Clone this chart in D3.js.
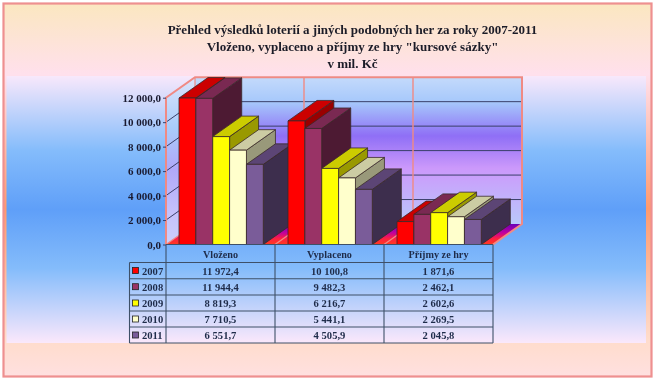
<!DOCTYPE html>
<html><head><meta charset="utf-8">
<script src="https://cdn.jsdelivr.net/npm/d3@7"></script>
<style>html,body{margin:0;padding:0;background:#fff}svg{display:block;filter:blur(0.35px)}text{font-family:"Liberation Serif",serif;font-weight:bold}</style>
</head><body><svg id="c" width="656" height="381"></svg>
<script>
const titleLines = ['Přehled výsledků loterií a jiných podobných her za roky 2007-2011','Vloženo, vyplaceno a příjmy ze hry "kursové sázky"','v mil. Kč'];
const categories = ['Vloženo','Vyplaceno','Příjmy ze hry'];
const years = ['2007','2008','2009','2010','2011'];
const v2007 = [11972.4,10100.8,1871.6];
const v2008 = [11944.4,9482.3,2462.1];
const v2009 = [8819.3,6216.7,2602.6];
const v2010 = [7710.5,5441.1,2269.5];
const v2011 = [6551.7,4505.9,2045.8];
const seriesValues = [v2007,v2008,v2009,v2010,v2011];
const colors = [
 {f:'#ff0000',t:'#cc0000',s:'#990000'},
 {f:'#993366',t:'#7a2952',s:'#4d1a33'},
 {f:'#ffff00',t:'#cccc00',s:'#999900'},
 {f:'#ffffcc',t:'#ccccA3',s:'#99997a'},
 {f:'#7a5c99',t:'#5c4575',s:'#3d2e4d'}];
const ticks = [0,2000,4000,6000,8000,10000,12000];

const svg = d3.select('#c'), defs = svg.append('defs');
const loc = d3.formatLocale({decimal:',',thousands:' ',grouping:[3],currency:['','']});
const fmt = loc.format(',.1f');
function grad(id,stops,x1=0,y1=0,x2=0,y2=1){
  const g=defs.append('linearGradient').attr('id',id).attr('x1',x1).attr('y1',y1).attr('x2',x2).attr('y2',y2);
  stops.forEach(s=>g.append('stop').attr('offset',s[0]).attr('stop-color',s[1]));
}
grad('outer',[[0,'#fbe7c0'],[0.19,'#ffe0ec'],[0.55,'#ff9a6e'],[0.9,'#ffdccb'],[1,'#ffe0e0']]);
grad('plot',[[0,'#f8e8fb'],[0.28,'#84bcfb'],[0.5,'#5f9ff8'],[0.72,'#84bcfb'],[1,'#fbe8fb']]);
grad('wall',[[0,'#c4dafb'],[0.17,'#a6c8fb'],[0.40,'#8f6ff6'],[0.62,'#cc99fb'],[1,'#b9c8fb']]);
grad('side',[[0,'#dce4fb'],[0.3,'#a9ccfb'],[0.55,'#b0a8f8'],[0.8,'#c4c0fb'],[1,'#ccd0fb']]);
grad('floor',[[0,'#6a00b8'],[0.42,'#c000a0'],[0.72,'#ff2040'],[1,'#ff3a20']]);

// layout
const x0=166,x1=493,dx=29,dy=20.5,y0=244.5,yT=97.7;
const y=d3.scaleLinear().domain([0,12000]).range([y0,yT]);
const xCat=d3.scaleBand().domain(categories).range([x0,x1]).paddingInner(0).paddingOuter(0);
const xBar=d3.scaleBand().domain(years).range([13,97.3]);
const pts=a=>a.map(p=>p.join(',')).join(' ');
const salmon='#f08a84', dark='#3a3f6a';

svg.append('rect').attr('x',3.5).attr('y',3.5).attr('width',648).attr('height',373).attr('fill','url(#outer)').attr('stroke','#ee9090').attr('stroke-width',2.2);
svg.append('rect').attr('x',6.5).attr('y',76).attr('width',639.5).attr('height',267).attr('fill','url(#plot)');

// title
svg.append('g').selectAll('text').data(titleLines).join('text')
 .attr('x',352.5).attr('y',(d,i)=>34+i*16.8).attr('text-anchor','middle').attr('font-size',13).attr('fill','#1c1c28').text(d=>d);

// walls
const g=svg.append('g');
g.append('polygon').attr('points',pts([[x0+dx,y(12000)-dy],[x1+dx,y(12000)-dy],[x1+dx,y0-dy],[x0+dx,y0-dy]])).attr('fill','url(#wall)');
g.append('polygon').attr('points',pts([[x0,yT],[x0+dx,yT-dy],[x0+dx,y0-dy],[x0,y0]])).attr('fill','url(#side)');
g.append('polygon').attr('points',pts([[x0,y0],[x0+dx,y0-dy],[x1+dx,y0-dy],[x1,y0]])).attr('fill','url(#floor)');
// gridlines
ticks.slice(1,-1).forEach(t=>{
  g.append('polyline').attr('points',pts([[x0,y(t)],[x0+dx,y(t)-dy],[x1+dx,y(t)-dy]])).attr('fill','none').attr('stroke',dark).attr('stroke-width',1);
});
// vertical grid
categories.slice(1).forEach(c=>{
  const x=xCat(c);
  g.append('polyline').attr('points',pts([[x,y0],[x+dx,y0-dy],[x+dx,yT-dy]])).attr('fill','none').attr('stroke',salmon).attr('stroke-width',1.4);
});
// wall outline
g.append('polyline').attr('points',pts([[x0,y0],[x0,yT],[x0+dx,yT-dy],[x1+dx,yT-dy],[x1+dx,y0-dy],[x1,y0]])).attr('fill','none').attr('stroke',salmon).attr('stroke-width',2);
g.append('line').attr('x1',x0+dx).attr('x2',x0+dx).attr('y1',yT-dy).attr('y2',y0-dy).attr('stroke',salmon).attr('stroke-width',1.2);
g.append('line').attr('x1',x0).attr('y1',y0).attr('x2',x0+dx).attr('y2',y0-dy).attr('stroke',salmon).attr('stroke-width',1.2);

// bars
const line='#3a2a2a';
categories.forEach((c,ci)=>{
  years.forEach((yr,si)=>{
    const v=seriesValues[si][ci], l=xCat(c)+xBar(yr), r=l+xBar.bandwidth(), top=y(v), col=colors[si];
    const b=g.append('g').attr('stroke',line).attr('stroke-width',0.8).attr('stroke-linejoin','round');
    b.append('polygon').attr('points',pts([[r,top],[r+dx,top-dy],[r+dx,y0-dy],[r,y0]])).attr('fill',col.s);
    b.append('polygon').attr('points',pts([[l,top],[l+dx,top-dy],[r+dx,top-dy],[r,top]])).attr('fill',col.t);
    b.append('rect').attr('x',l).attr('y',top).attr('width',r-l).attr('height',y0-top).attr('fill',col.f);
  });
});

// y axis
const axis=svg.append('g').attr('transform',`translate(${x0},0)`).call(d3.axisLeft(y).tickValues(ticks).tickFormat(fmt).tickSize(3).tickPadding(2));
axis.select('.domain').remove();
axis.selectAll('line').attr('stroke',dark);
axis.selectAll('text').attr('font-size',11).attr('fill','#1a1a30').attr('font-family','"Liberation Serif",serif').attr('font-weight','bold');

// data table
const rowY=[244.5,262.5,278.7,295,311,327,343], tblX=129.5, tc='#3e5068';
const t=svg.append('g').attr('stroke',tc).attr('stroke-width',1.1);
t.append('line').attr('x1',x0).attr('x2',x1).attr('y1',y0).attr('y2',y0);
rowY.slice(1).forEach(yy=>t.append('line').attr('x1',tblX).attr('x2',x1).attr('y1',yy).attr('y2',yy));
t.append('line').attr('x1',tblX).attr('x2',tblX).attr('y1',rowY[1]).attr('y2',rowY[6]);
[x0,...categories.slice(1).map(c=>xCat(c)),x1].forEach(x=>t.append('line').attr('x1',x).attr('x2',x).attr('y1',y0).attr('y2',rowY[6]));
const tf='#1f2c4a';
categories.forEach(c=>{
  svg.append('text').attr('x',xCat(c)+xCat.bandwidth()/2).attr('y',257.5).attr('text-anchor','middle').attr('font-size',10.2).attr('fill',tf).text(c);
  years.forEach((yr,si)=>{
    svg.append('text').attr('x',xCat(c)+xCat.bandwidth()/2).attr('y',rowY[si+2]-4).attr('text-anchor','middle').attr('font-size',10.6).attr('fill',tf).text(fmt(seriesValues[si][categories.indexOf(c)]));
  });
});
years.forEach((yr,si)=>{
  svg.append('rect').attr('x',132.5).attr('y',rowY[si+1]+5).attr('width',6).attr('height',6).attr('fill',colors[si].f).attr('stroke','#222').attr('stroke-width',0.8);
  svg.append('text').attr('x',142).attr('y',rowY[si+2]-4).attr('font-size',10.6).attr('fill',tf).text(yr);
});
</script></body></html>
